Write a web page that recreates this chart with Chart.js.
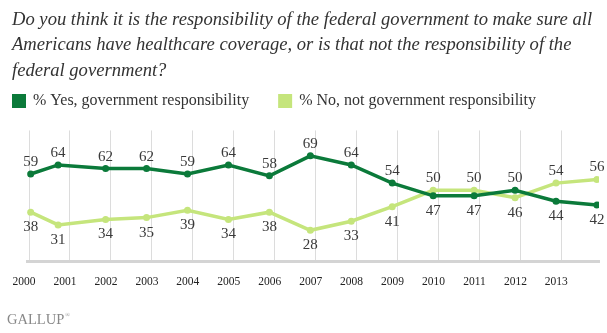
<!DOCTYPE html>
<html lang="en">

<head>
    <meta charset="UTF-8">
    <title>Healthcare coverage</title>
    <style>
        html, body { margin: 0; padding: 0; background: #fff; }
        #wrap { width: 607px; height: 333px; }
    </style>
</head>

<body>
    <div id="wrap"><canvas id="chart" width="607" height="333"></canvas></div>

    <script src="https://cdn.jsdelivr.net/npm/chart.js"></script>
    <script>
        // survey dates as decimal years: Jan 2000, Sep 2000, then every November
        const surveyDates = [2000.04, 2000.71, 2001.87, 2002.87, 2003.87, 2004.87, 2005.87, 2006.87,
            2007.87, 2008.87, 2009.87, 2010.87, 2011.87, 2012.87, 2013.87];
        const yesValues = [59, 64, 62, 62, 59, 64, 58, 69, 64, 54, 47, 47, 50, 44, 42];
        const noValues = [38, 31, 34, 35, 39, 34, 38, 28, 33, 41, 50, 50, 46, 54, 56];
        const yearTicks = [2000, 2001, 2002, 2003, 2004, 2005, 2006, 2007, 2008, 2009, 2010, 2011, 2012, 2013];
        const seriesNames = ['% Yes, government responsibility', '% No, not government responsibility'];
        const titleLines = [
            'Do you think it is the responsibility of the federal government to make sure all',
            'Americans have healthcare coverage, or is that not the responsibility of the',
            'federal government?'
        ];

        const DARK = '#0b7a3a';
        const LIGHT = '#c5e57c';
        const SERIF = '"Liberation Serif", "DejaVu Serif", serif';

        function toPoints(values) {
            return values.map((v, i) => ({ x: surveyDates[i], y: v }));
        }

        // number above the higher series, below the lower one
        const valueLabels = {
            id: 'valueLabels',
            afterDatasetsDraw(chart) {
                const ctx = chart.ctx;
                const yesPts = chart.getDatasetMeta(0).data;
                const noPts = chart.getDatasetMeta(1).data;
                ctx.save();
                ctx.font = '15px ' + SERIF;
                ctx.fillStyle = '#3a3a3a';
                ctx.textAlign = 'center';
                ctx.textBaseline = 'middle';
                yesValues.forEach((yes, i) => {
                    const no = noValues[i];
                    const yesUp = yes >= no;
                    ctx.fillText(yes, yesPts[i].x, yesPts[i].y + (yesUp ? -12 : 15));
                    ctx.fillText(no, noPts[i].x, noPts[i].y + (yesUp ? 15 : -12));
                });
                ctx.restore();
            }
        };

        // legend row under the question
        const legendRow = {
            id: 'legendRow',
            afterDraw(chart) {
                const ctx = chart.ctx;
                ctx.save();
                ctx.font = '16px ' + SERIF;
                ctx.textBaseline = 'middle';
                ctx.textAlign = 'left';
                let x = 12;
                chart.data.datasets.forEach(ds => {
                    ctx.fillStyle = ds.borderColor;
                    ctx.fillRect(x, 94, 14, 14);
                    ctx.fillStyle = '#333';
                    ctx.fillText(ds.label, x + 21, 101);
                    x += 21 + ctx.measureText(ds.label).width + 29;
                });
                ctx.restore();
            }
        };

        const brand = {
            id: 'brand',
            afterDraw(chart) {
                const ctx = chart.ctx;
                ctx.save();
                ctx.fillStyle = '#888';
                ctx.font = '14.5px ' + SERIF;
                ctx.textBaseline = 'alphabetic';
                ctx.fillText('GALLUP', 7, 324);
                const w = ctx.measureText('GALLUP').width;
                ctx.font = '6px ' + SERIF;
                ctx.fillText('\u00AE', 7 + w + 1, 317);
                ctx.restore();
            }
        };

        const ctx = document.getElementById('chart').getContext('2d');
        const chart = new Chart(ctx, {
            type: 'line',
            data: {
                datasets: [
                    {
                        label: seriesNames[0],
                        data: toPoints(yesValues),
                        borderColor: DARK,
                        backgroundColor: DARK,
                        borderWidth: 3.5,
                        pointRadius: 3.5,
                        pointBorderWidth: 0,
                        tension: 0
                    },
                    {
                        label: seriesNames[1],
                        data: toPoints(noValues),
                        borderColor: LIGHT,
                        backgroundColor: LIGHT,
                        borderWidth: 3.5,
                        pointRadius: 3.5,
                        pointBorderWidth: 0,
                        tension: 0
                    }
                ]
            },
            options: {
                responsive: false,
                animation: false,
                devicePixelRatio: 1,
                layout: { padding: { left: 12, right: 8, top: 0, bottom: 30 } },
                plugins: {
                    legend: { display: false },
                    tooltip: { enabled: false },
                    title: {
                        display: true,
                        text: titleLines,
                        align: 'start',
                        color: '#333',
                        font: { family: SERIF, size: 18.6, style: 'italic', weight: 'normal', lineHeight: 1.37 },
                        padding: { top: 7, bottom: 47 }
                    }
                },
                scales: {
                    x: {
                        type: 'linear',
                        min: 1999.95,
                        max: 2013.92,
                        afterBuildTicks: axis => {
                            axis.ticks = yearTicks.map(v => ({ value: v }));
                        },
                        grid: { color: '#dcdcdc', lineWidth: 1, drawTicks: false },
                        border: { display: true, color: '#d4d4d4', width: 3 },
                        ticks: {
                            autoSkip: false,
                            maxRotation: 0,
                            padding: 14,
                            labelOffset: -5,
                            color: '#222',
                            font: { family: SERIF, size: 11.5 },
                            callback: v => String(v)
                        }
                    },
                    y: {
                        min: 11,
                        max: 83,
                        ticks: { display: false },
                        grid: { drawOnChartArea: false, drawTicks: true, tickLength: 15, color: 'rgba(0,0,0,0)' },
                        border: { display: false }
                    }
                }
            },
            plugins: [valueLabels, legendRow, brand]
        });
    </script>
</body>

</html>
